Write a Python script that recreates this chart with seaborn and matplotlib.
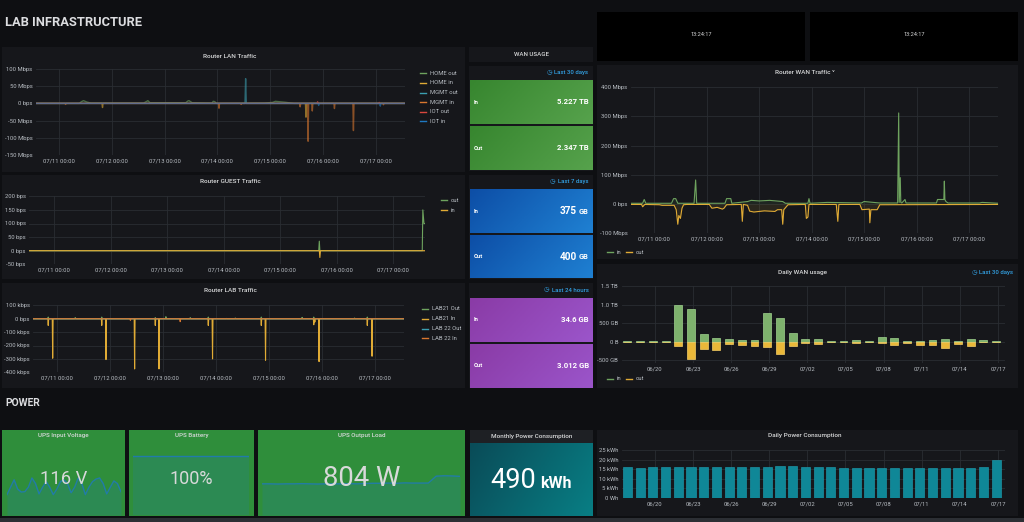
"""
LAB INFRASTRUCTURE dashboard (Grafana dark theme) rebuilt with seaborn/matplotlib.
"""
import numpy as np
import pandas as pd
import matplotlib
matplotlib.use("Agg")
import matplotlib.pyplot as plt
import matplotlib.dates as mdates
from matplotlib.colors import LinearSegmentedColormap
from matplotlib.lines import Line2D
from matplotlib.patches import Rectangle
import seaborn as sns

# ── Data ──────────────────────────────────────────────────────────────────
# time series are given as day offsets from 07/11 00:00
T0 = pd.Timestamp("2020-07-11 00:00")
WIN_START = pd.Timestamp("2020-07-10 13:24")
WIN_END = pd.Timestamp("2020-07-17 13:24")

# Router LAN Traffic (Mbps)
home_out_t = [-0.44, 0.38, 0.42, 0.46, 0.52, 0.60, 1.60, 1.66, 1.68, 1.72, 1.80, 2.40,
              2.44, 2.46, 2.52, 2.90, 2.92, 2.95, 2.98, 3.90, 4.05, 4.10, 4.30, 4.45, 6.56]
home_out_v = [0, 0, 5, 8, 4, 1, 1, 6, 8, 2, 2, 2, 7, 8, 2, 1, 6, 5, 0, 1, 3, 6, 3, 0, 0]
home_in_spikes_t = [0.82, 4.68]
home_in_spikes_v = [-12, -40]
mgmt_out_spikes_t = [3.535]
mgmt_out_spikes_v = [72]
mgmt_in_spikes_t = [0.12, 3.03, 3.45, 4.57, 4.72, 4.80, 5.22, 5.58, 6.15]
mgmt_in_spikes_v = [-3, -14, -3, -10, -110, -22, -15, -79, -4]
iot_out_spikes_t = [4.90, 6.07]
iot_out_spikes_v = [5, 3]
iot_in_spikes_t = [4.92, 6.09]
iot_in_spikes_v = [-6, -8]
lan_yticks = [-150, -100, -50, 0, 50, 100]
lan_ylabels = ["-150 Mbps", "-100 Mbps", "-50 Mbps", "0 bps", "50 Mbps", "100 Mbps"]

# Router GUEST Traffic (bps)
guest_out_t = [-0.44, 4.68, 4.69, 4.70, 6.51, 6.52, 6.54, 6.56]
guest_out_v = [0, 0, 35, 0, 0, 150, 100, 100]
guest_in_t = [-0.44, 4.69, 4.70, 4.71, 6.56]
guest_in_v = [0, 0, -25, 0, 0]
guest_yticks = [-50, 0, 50, 100, 150, 200]
guest_ylabels = ["-50 bps", "0 bps", "50 bps", "100 bps", "150 bps", "200 bps"]

# Router LAB Traffic (kbps)
lab21_out_spikes_t = [-0.16, 0.35, 0.85, 1.86, 2.06, 2.52, 2.86, 3.37, 3.86, 4.63, 4.85, 5.62, 5.86]
lab21_out_spikes_v = [12, 8, 12, 8, 15, 8, 12, 5, 12, 10, 12, 5, 12]
lab21_in_spikes_t = [-0.16, -0.076, 0.85, 0.93, 1.47, 1.86, 1.93, 2.86, 2.94, 3.86, 3.94,
                     4.85, 4.87, 4.95, 5.86, 5.95]
lab21_in_spikes_v = [-50, -295, -50, -305, -375, -50, -375, -50, -300, -50, -310,
                     -45, -25, -320, -50, -280]
lab22_out_spikes_t = [3.20]
lab22_out_spikes_v = [2]
lab22_in_spikes_t = [1.39, 2.33]
lab22_in_spikes_v = [-12, -22]
lab_yticks = [-400, -300, -200, -100, 0, 100]
lab_ylabels = ["-400 kbps", "-300 kbps", "-200 kbps", "-100 kbps", "0 bps", "100 kbps"]

# Router WAN Traffic (Mbps)
wan_in_t = [-0.445, -0.22, -0.19, -0.16, 0.33, 0.37, 0.41, 0.45, 0.76, 0.79, 0.81, 1.35,
            1.38, 1.46, 1.48, 1.78, 1.85, 2.00, 2.20, 2.45, 2.50, 2.93, 2.95, 2.97, 3.30,
            3.95, 4.00, 4.30, 4.64, 4.66, 4.67, 4.69, 4.70, 4.72, 4.78, 4.80, 5.38, 5.40,
            5.52, 5.53, 5.54, 5.56, 5.60, 6.20, 6.25, 6.56]
wan_in_v = [2, 2, 15, 2, 2, 18, 18, 2, 2, 82, 2, 2, 18, 18, 2, 8, 12, 10, 12, 8, 2, 2,
            18, 2, 5, 3, 8, 3, 3, 312, 5, 90, 5, 3, 15, 3, 3, 15, 15, 78, 15, 8, 3, 3, 5, 2]
wan_out_t = [-0.445, -0.24, -0.22, -0.18, 0.10, 0.15, 0.38, 0.42, 0.45, 0.47, 0.50, 0.53,
             0.56, 0.62, 1.05, 1.10, 1.20, 1.30, 1.33, 1.38, 1.66, 1.68, 1.70, 1.78, 1.82,
             1.90, 2.10, 2.30, 2.35, 2.43, 2.45, 2.47, 2.55, 2.88, 2.90, 2.93, 2.95, 3.47,
             3.50, 3.52, 3.92, 3.96, 4.10, 4.11, 4.13, 4.25, 4.30, 6.56]
wan_out_v = [-2, -2, -10, -2, -3, -5, -5, -20, -70, -40, -50, -15, -3, -2, -2, -15, -12,
             -18, -15, -3, -2, -60, -2, -5, -25, -28, -24, -26, -20, -20, -70, -20, -3, -2,
             -50, -45, -2, -2, -60, -2, -2, -20, -18, -65, -20, -20, -3, -2]
wan_yticks = [-100, 0, 100, 200, 300, 400]
wan_ylabels = ["-100 Mbps", "0 bps", "100 Mbps", "200 Mbps", "300 Mbps", "400 Mbps"]

# Daily WAN usage (GB) and Daily Power Consumption (kWh)
days = ["06/18", "06/19", "06/20", "06/21", "06/22", "06/23", "06/24", "06/25", "06/26",
        "06/27", "06/28", "06/29", "06/30", "07/01", "07/02", "07/03", "07/04", "07/05",
        "07/06", "07/07", "07/08", "07/09", "07/10", "07/11", "07/12", "07/13", "07/14",
        "07/15", "07/16", "07/17"]
wan_day_in = [15, 10, 15, 20, 985, 870, 215, 115, 85, 40, 60, 770, 640, 250, 65, 65, 30,
              10, 40, 35, 140, 100, 20, 20, 50, 65, 30, 70, 60, 10]
wan_day_out = [-10, -10, -10, -5, -115, -470, -190, -210, -50, -90, -100, -150, -315, -110,
               -30, -45, -10, -5, -20, -15, -30, -75, -30, -90, -80, -160, -50, -100, -10, -5]
daily_yticks = [-500, 0, 500, 1000, 1500]
daily_ylabels = ["-500 GB", "0 B", "500 GB", "1.0 TB", "1.5 TB"]
power_kwh = [16.2, 15.9, 16.2, 16.1, 16.2, 16.4, 16.3, 16.3, 16.3, 16.4, 16.4, 16.4, 16.5,
             16.5, 16.1, 16.2, 16.1, 15.6, 15.7, 15.7, 15.8, 15.8, 15.8, 15.8, 15.8, 15.7,
             15.7, 15.7, 16.2, 20.1]
power_yticks = [0, 5, 10, 15, 20, 25]
power_ylabels = ["0 Wh", "5 kWh", "10 kWh", "15 kWh", "20 kWh", "25 kWh"]
day_tick_idx = [2, 5, 8, 11, 14, 17, 20, 23, 26, 29]

# UPS sparklines
ups_voltage = [114.0, 116.0, 118.0, 115.5, 114.7, 114.8, 116.0, 118.5, 117.0, 114.2, 116.0,
               117.5, 116.0, 114.0, 115.5, 117.5, 118.0, 117.0, 114.5, 116.0, 118.5, 117.0,
               114.0, 116.0, 117.5, 118.2, 118.5, 117.0, 114.2, 116.0, 117.7, 117.0, 114.8]
ups_battery = [100, 100, 100, 100, 100, 100, 100, 100, 100, 100, 100, 100]
ups_load = [790, 790, 789, 790, 790, 791, 790, 789, 790, 790, 790, 791, 790, 792, 793, 793,
            794, 793, 795, 794, 794, 794, 830, 832, 831, 829]

# WAN usage stat values
wan_stats = [
    ("Last 30 days", "5.227 TB", "2.347 TB"),
    ("Last 7 days", ("375", "GB"), ("400", "GB")),
    ("Last 24 hours", "34.6 GB", "3.012 GB"),
]

# ── Style ─────────────────────────────────────────────────────────────────
W, H = 1024, 522
BG = "#0e0f12"
PANEL = "#16171b"
GRID = "#2a2d32"
TEXT = "#d8d9da"
TICK = "#b9bec4"
BLUE_TXT = "#33a2e5"

C_GREEN = "#6ea35e"
C_YELLOW = "#e0ab35"
C_TEAL = "#3b9fb0"
C_ORANGE = "#d9772f"
C_RED = "#d9473d"
C_BLUE = "#1f78c1"

plt.rcParams["font.family"] = ["Roboto", "DejaVu Sans"]

fig = plt.figure(figsize=(W / 100, H / 100), dpi=100, facecolor=BG)


def px_axes(x0, y0, x1, y1):
    return fig.add_axes([x0 / W, 1 - y1 / H, (x1 - x0) / W, (y1 - y0) / H])


def panel(x0, y0, x1, y1, color=PANEL):
    fig.add_artist(Rectangle((x0 / W, 1 - y1 / H), (x1 - x0) / W, (y1 - y0) / H,
                             transform=fig.transFigure, facecolor=color,
                             edgecolor="none", zorder=-1))


def ftext(x, y, s, **kw):
    kw.setdefault("va", "center")
    kw.setdefault("color", TEXT)
    fig.text(x / W, 1 - y / H, s, **kw)


def legend_entry(x, y, color, label):
    fig.add_artist(Line2D([x / W, (x + 6) / W], [1 - y / H] * 2,
                          transform=fig.transFigure, color=color, lw=1.0))
    ftext(x + 10, y, label, fontsize=4.2, color=TICK)


def to_time(day_offsets):
    return T0 + pd.to_timedelta(np.asarray(day_offsets, dtype=float), unit="D")


def spike_frame(times, values, half=0.01):
    t, v = [-0.445], [0.0]
    for ti, vi in zip(times, values):
        t += [ti - half, ti, ti + half]
        v += [0.0, vi, 0.0]
    t.append(6.56)
    v.append(0.0)
    return pd.DataFrame({"time": to_time(t), "value": v})


def style_graph(ax):
    ax.set_facecolor("none")
    for s in ax.spines.values():
        s.set_visible(False)
    ax.grid(True, color=GRID, linewidth=0.6)
    ax.set_axisbelow(True)
    ax.tick_params(colors=TICK, labelsize=4.2, length=0, pad=2.5)
    ax.set_xlabel("")
    ax.set_ylabel("")


def date_axis(ax):
    ax.set_xlim(WIN_START, WIN_END)
    ax.xaxis.set_major_locator(mdates.DayLocator())
    ax.xaxis.set_major_formatter(mdates.DateFormatter("%m/%d %H:%M"))


def line(ax, df, color, lw=0.8, alpha=1.0):
    sns.lineplot(data=df, x="time", y="value", ax=ax, color=color, linewidth=lw,
                 alpha=alpha)


def gradient_axes(x0, y0, x1, y1, c0, c1):
    ax = px_axes(x0, y0, x1, y1)
    cmap = LinearSegmentedColormap.from_list("g", [c0, c1])
    gx, gy = np.meshgrid(np.linspace(0, 1, 64), np.linspace(0, 1, 16))
    ax.imshow(0.75 * gx + 0.25 * gy, cmap=cmap, aspect="auto",
              extent=[0, 1, 0, 1], origin="upper")
    ax.set_axis_off()
    return ax


# ── Header ────────────────────────────────────────────────────────────────
ftext(5, 22, "LAB INFRASTRUCTURE", fontsize=9.3, weight="bold", color="#dcdde0")
panel(597, 12, 805, 61, color="#000000")
panel(810, 12, 1018, 61, color="#000000")
ftext(701, 34.5, "13:24:17", fontsize=4.0, ha="center")
ftext(914, 34.5, "13:24:17", fontsize=4.0, ha="center")

# ── Router LAN Traffic ───────────────────────────────────────────────────
panel(2, 47, 465, 172)
ftext(230, 56.5, "Router LAN Traffic", fontsize=4.6, ha="center", weight="medium")
ax = px_axes(36, 69, 405, 155)
lan_series = [
    ("HOME out", pd.DataFrame({"time": to_time(home_out_t), "value": home_out_v}), C_GREEN),
    ("HOME in", spike_frame(home_in_spikes_t, home_in_spikes_v), C_YELLOW),
    ("MGMT out", spike_frame(mgmt_out_spikes_t, mgmt_out_spikes_v, half=0.012), C_TEAL),
    ("MGMT in", spike_frame(mgmt_in_spikes_t, mgmt_in_spikes_v), C_ORANGE),
    ("IOT out", spike_frame(iot_out_spikes_t, iot_out_spikes_v), C_RED),
    ("IOT in", spike_frame(iot_in_spikes_t, iot_in_spikes_v), C_BLUE),
]
for name, df, color in lan_series:
    line(ax, df, color, lw=1.0, alpha=0.6)
date_axis(ax)
ax.set_ylim(-150, 100)
ax.set_yticks(lan_yticks, lan_ylabels)
style_graph(ax)
for i, (name, df, color) in enumerate(lan_series):
    legend_entry(420, 73.3 + i * 9.6, color, name)

# ── Router GUEST Traffic ─────────────────────────────────────────────────
panel(2, 175, 465, 279)
ftext(230, 181.5, "Router GUEST Traffic", fontsize=4.6, ha="center", weight="medium")
ax = px_axes(29, 196.3, 425, 264.3)
line(ax, pd.DataFrame({"time": to_time(guest_out_t), "value": guest_out_v}), C_GREEN)
line(ax, pd.DataFrame({"time": to_time(guest_in_t), "value": guest_in_v}), C_YELLOW)
date_axis(ax)
ax.set_ylim(-50, 200)
ax.set_yticks(guest_yticks, guest_ylabels)
style_graph(ax)
legend_entry(441, 200.3, C_GREEN, "out")
legend_entry(441, 210.3, C_YELLOW, "in")

# ── Router LAB Traffic ───────────────────────────────────────────────────
panel(2, 283, 465, 388)
ftext(230, 290.7, "Router LAB Traffic", fontsize=4.6, ha="center", weight="medium")
ax = px_axes(33.3, 305.3, 404.3, 372.3)
lab_series = [
    ("LAB21 Out", spike_frame(lab21_out_spikes_t, lab21_out_spikes_v), C_GREEN),
    ("LAB21 In", spike_frame(lab21_in_spikes_t, lab21_in_spikes_v, half=0.008), C_YELLOW),
    ("LAB 22 Out", spike_frame(lab22_out_spikes_t, lab22_out_spikes_v), C_TEAL),
    ("LAB 22 In", spike_frame(lab22_in_spikes_t, lab22_in_spikes_v), C_ORANGE),
]
for name, df, color in lab_series:
    line(ax, df, color)
date_axis(ax)
ax.set_ylim(-400, 100)
ax.set_yticks(lab_yticks, lab_ylabels)
style_graph(ax)
for i, (name, df, color) in enumerate(lab_series):
    legend_entry(422, 309 + i * 9.8, color, name)

# ── WAN USAGE stats ──────────────────────────────────────────────────────
panel(469, 47, 593, 62)
ftext(531, 54.5, "WAN USAGE", fontsize=4.4, ha="center", weight="medium")
stat_layout = [
    # container, header y, icon x, in box, out box, colours
    ((469, 66, 593, 171), 72.7, 549.5, (80, 124), (126, 170), ("#37862f", "#56a24c")),
    ((469, 175, 593, 279), 181.3, 552.5, (189, 233.3), (235, 278.5), ("#0d4ea6", "#1f80d2")),
    ((469, 283, 593, 388), 290.0, 546.5, (297.7, 342), (344, 387.5), ("#8a3ba6", "#9b55ca")),
]
for (rng, v_in, v_out), (box, hy, icx, in_y, out_y, cols) in zip(wan_stats, stat_layout):
    panel(*box)
    ftext(icx, hy, "\u25f7", fontsize=4.6, color=BLUE_TXT, ha="center",
          family=["DejaVu Sans"])
    ftext(588.5, hy, rng, fontsize=4.3, color=BLUE_TXT, ha="right", weight="medium")
    for label, val, (ya, yb) in (("In", v_in, in_y), ("Out", v_out, out_y)):
        gradient_axes(470, ya, 592.7, yb, *cols)
        ym = (ya + yb) / 2
        ftext(473.5, ym, label, fontsize=4.2, color="white", weight="bold")
        if isinstance(val, tuple):
            ftext(576.5, ym, val[0], fontsize=7.2, color="white", weight="bold", ha="right")
            ftext(578.3, ym + 0.6, val[1], fontsize=5.3, color="white", weight="bold")
        else:
            ftext(589, ym, val, fontsize=5.6, color="white", weight="bold", ha="right")

# ── Router WAN Traffic ───────────────────────────────────────────────────
panel(597, 65, 1018, 259)
ftext(805, 72.7, "Router WAN Traffic \u02c5", fontsize=4.6, ha="center", weight="medium")
ax = px_axes(631, 87.3, 998.3, 233)
wan_in_df = pd.DataFrame({"time": to_time(wan_in_t), "value": wan_in_v})
wan_out_df = pd.DataFrame({"time": to_time(wan_out_t), "value": wan_out_v})
for df, color in ((wan_in_df, C_GREEN), (wan_out_df, C_YELLOW)):
    ax.fill_between(df["time"], df["value"], 0, color=color, alpha=0.1, linewidth=0)
    line(ax, df, color)
date_axis(ax)
ax.set_ylim(-100, 400)
ax.set_yticks(wan_yticks, wan_ylabels)
style_graph(ax)
legend_entry(607, 252.3, C_GREEN, "in")
legend_entry(626, 252.3, C_YELLOW, "out")

# ── Daily WAN usage ──────────────────────────────────────────────────────
panel(597, 264, 1018, 388)
ftext(803, 272.7, "Daily WAN usage", fontsize=4.6, ha="center", weight="medium")
ftext(974.5, 272.7, "\u25f7", fontsize=4.6, color=BLUE_TXT, ha="center",
      family=["DejaVu Sans"])
ftext(1013.3, 272.7, "Last 30 days", fontsize=4.3, color=BLUE_TXT, ha="right",
      weight="medium")
ax = px_axes(621.7, 286, 1005, 362.7)
sns.barplot(x=days, y=wan_day_in, ax=ax, color="#7eb26d", saturation=1, width=0.62,
            edgecolor="#9fd28e", linewidth=0.5)
sns.barplot(x=days, y=wan_day_out, ax=ax, color="#eab839", saturation=1, width=0.62,
            edgecolor="#f7cf66", linewidth=0.5)
ax.set_xlim(-0.45, 29.7)
ax.set_ylim(-560, 1500)
ax.set_xticks([i + 0.15 for i in day_tick_idx], [days[i] for i in day_tick_idx])
ax.set_yticks(daily_yticks, daily_ylabels)
style_graph(ax)
legend_entry(607, 379, C_GREEN, "in")
legend_entry(626, 379, C_YELLOW, "out")

# ── POWER row ────────────────────────────────────────────────────────────
ftext(5, 403, "POWER", fontsize=7.4, weight="bold", color="#dcdde0")
UPS_GREEN = "#2f8e3b"
SPARK = "#1f78c1"

# UPS Input Voltage
panel(2, 430, 125, 516, color=UPS_GREEN)
ax = px_axes(7, 465, 121, 515)
x = np.arange(len(ups_voltage))
sns.lineplot(x=x, y=ups_voltage, ax=ax, color=SPARK, linewidth=1.0, alpha=0.8)
ax.fill_between(x, ups_voltage, 108.5, color=SPARK, alpha=0.18, linewidth=0)
ax.set_xlim(0, len(ups_voltage) - 1)
ax.set_ylim(108.5, 122.0)
ax.set_axis_off()
ftext(63.5, 436, "UPS Input Voltage", fontsize=4.5, ha="center", weight="medium")
ftext(63.5, 479.5, "116 V", fontsize=13.2, ha="center", color="#d8d9da")

# UPS Battery
panel(129, 430, 254, 516, color=UPS_GREEN)
ax = px_axes(133, 440, 249, 515)
x = np.arange(len(ups_battery))
sns.lineplot(x=x, y=ups_battery, ax=ax, color=SPARK, linewidth=1.0, alpha=0.8)
ax.fill_between(x, ups_battery, 0, color=SPARK, alpha=0.18, linewidth=0)
ax.set_xlim(0, len(ups_battery) - 1)
ax.set_ylim(0, 127)
ax.set_axis_off()
ftext(191.5, 436, "UPS Battery", fontsize=4.5, ha="center", weight="medium")
ftext(191.5, 479.5, "100%", fontsize=13.0, ha="center", color="#d8d9da")

# UPS Output Load
panel(258, 430, 465, 516, color=UPS_GREEN)
ax = px_axes(262, 440, 460, 515)
x = np.arange(len(ups_load))
sns.lineplot(x=x, y=ups_load, ax=ax, color=SPARK, linewidth=1.0, alpha=0.8)
ax.fill_between(x, ups_load, 628, color=SPARK, alpha=0.18, linewidth=0)
ax.set_xlim(0, len(ups_load) - 1)
ax.set_ylim(628, 1018)
ax.set_axis_off()
ftext(361.5, 436, "UPS Output Load", fontsize=4.5, ha="center", weight="medium")
ftext(361.5, 478.5, "804 W", fontsize=19.8, ha="center", color="#d8d9da")

# Monthly Power Consumption
panel(470, 430, 593, 443, color="#1e2024")
ftext(531.5, 436.5, "Monthly Power Consumption", fontsize=4.5, ha="center",
      weight="medium")
gradient_axes(470, 443, 593, 516, "#0a4c58", "#087e84")
ftext(536, 481, "490", fontsize=19.5, ha="right", color="white")
ftext(540, 483, "kWh", fontsize=11.5, weight="bold", color="white")

# Daily Power Consumption
panel(597, 430, 1018, 516)
ftext(805, 436, "Daily Power Consumption", fontsize=4.6, ha="center", weight="medium")
ax = px_axes(621.7, 450.3, 1005, 497.7)
sns.barplot(x=days, y=power_kwh, ax=ax, color="#0f8797", saturation=1, width=0.72,
            edgecolor="#1ea3b6", linewidth=0.4)
ax.set_xlim(-0.45, 29.7)
ax.set_ylim(0, 25)
ax.set_xticks([i + 0.15 for i in day_tick_idx], [days[i] for i in day_tick_idx])
ax.set_yticks(power_yticks, power_ylabels)
style_graph(ax)

# bottom strip
panel(0, 518, 1024, 522, color="#2c2f34")

fig.savefig("out.png", dpi=100, facecolor=BG)
plt.close(fig)
